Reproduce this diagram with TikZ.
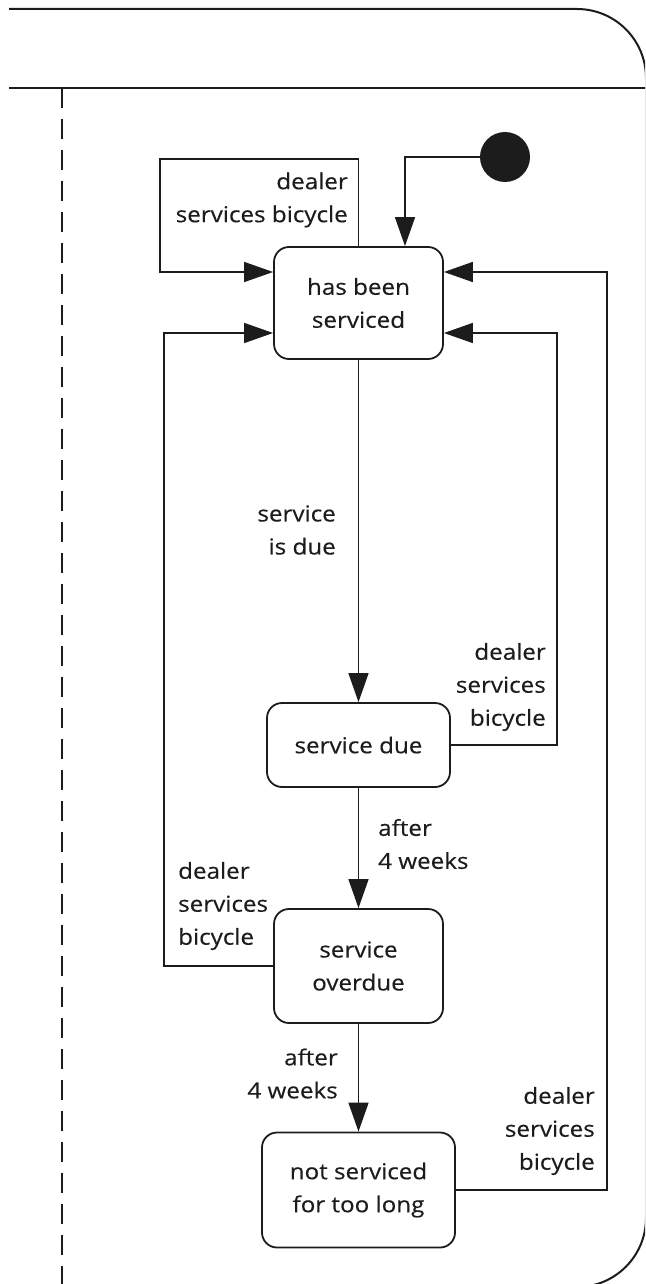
\documentclass[tikz,border=0pt]{standalone}
\usepackage{fontspec}
\setmainfont{Open Sans}[FakeStretch=1.1, FakeBold=0.3]
\usetikzlibrary{arrows.meta}
\definecolor{inkc}{RGB}{28,28,28}
\newcommand\lblsize{\fontsize{22}{33}\selectfont}
\begin{document}
\begin{tikzpicture}[x=1pt,y=-1pt,
  frame/.style={draw=inkc, line width=2pt},
  state/.style={draw=inkc, line width=1.8pt, rounded corners=15pt, inner sep=0pt,
    align=center, font=\lblsize, text=inkc},
  lbl/.style={inner sep=0pt, font=\lblsize, text=inkc},
  conn/.style={draw=inkc, line width=1.5pt, -{Triangle[length=29pt,width=20pt]}},
]
\useasboundingbox (0,0) rectangle (645,1284);
\clip (0,0) rectangle (645,1284);

% swimlane frame with its header band and lane divider
\draw[frame, rounded corners=69pt] (9,9) -- (646,9) -- (646,1287) -- (9,1287);
\draw[frame] (9,88) -- (646,88);
\draw[frame, dash pattern=on 20pt off 11pt] (62,88) -- (62,1290);

% states
\node[state, minimum width=169pt, minimum height=112pt] (A) at (358.5,303) {has been\\serviced};
\node[state, minimum width=183pt, minimum height=84pt]  (B) at (358.5,745) {service due};
\node[state, minimum width=169pt, minimum height=114pt] (C) at (358.5,966) {service\\overdue};
\node[state, minimum width=193pt, minimum height=115pt] (D) at (358.5,1190) {not serviced\\for too long};

% initial pseudo-state
\node[circle, fill=inkc, minimum size=50pt, inner sep=0pt] (init) at (505,157) {};

% bend points of the routed transitions
\coordinate (c1) at (160,159);
\coordinate (c2) at (557,333);
\coordinate (c3) at (164,333);
\coordinate (c4) at (607,272);
\coordinate (Ain1) at ([yshift=31pt]A.west);
\coordinate (Ain2) at ([yshift=-30pt]A.west);
\coordinate (Aout1) at ([yshift=31pt]A.east);
\coordinate (Aout2) at ([yshift=-30pt]A.east);

% transitions
\draw[conn] (init.west) -| ([xshift=46.5pt]A.north);
\draw[conn] (A.north) |- (c1) |- (Ain1);
\draw[conn] (A.south) -- (B.north);
\draw[conn] (B.east) -| (c2) -- (Aout2);
\draw[conn] (B.south) -- (C.north);
\draw[conn] (C.west) -| (c3) -- (Ain2);
\draw[conn] (C.south) -- (D.north);
\draw[conn] (D.east) -| (c4) -- (Aout1);

% transition labels
\node[lbl, anchor=east, align=right] (t0) at (348,200) {dealer\\services bicycle};
\node[lbl, anchor=east, align=right] (t1) at (336,530) {service\\is due};
\node[lbl, anchor=east, align=right] (t2) at (546,687) {dealer\\services\\bicycle};
\node[lbl, anchor=west, align=left]  (t3) at (378,844) {after\\4 weeks};
\node[lbl, anchor=west, align=left]  (t4) at (178,906) {dealer\\services\\bicycle};
\node[lbl, anchor=east, align=right] (t5) at (338,1073.5) {after\\4 weeks};
\node[lbl, anchor=east, align=right] (t6) at (595,1131) {dealer\\services\\bicycle};
\end{tikzpicture}
\end{document}
